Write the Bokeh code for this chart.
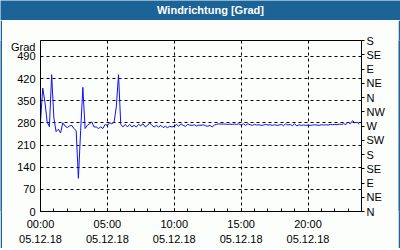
from datetime import datetime, timedelta
from bokeh.plotting import figure
from bokeh.layouts import column, row
from bokeh.models import (FixedTicker, DatetimeTickFormatter, LinearAxis, Range1d,
                          ColumnDataSource)
from bokeh.core.properties import value
from bokeh.embed import file_html
from bokeh.resources import INLINE

# ---- data (10-minute wind direction values, 05.12.18) ----
start = datetime(2018, 12, 5, 0, 0)
direction = [
    283, 390, 345, 282, 268, 432, 295, 252, 260, 248, 280, 270,
    265, 270, 272, 262, 255, 105, 255, 392, 262, 272, 277, 283,
    267, 267, 262, 267, 262, 275, 272, 280, 277, 282, 330, 432,
    275, 267, 275, 267, 275, 267, 272, 267, 275, 271, 277, 267,
    272, 280, 272, 267, 272, 267, 272, 265, 269, 265, 269, 267,
    269, 275, 269, 277, 272, 269, 275, 273, 272, 274, 270, 273,
    272, 274, 271, 269, 272, 267, 273, 275, 277, 276, 276, 276,
    275, 276, 275, 276, 275, 277, 273, 277, 272, 277, 274, 272,
    275, 273, 274, 272, 273, 275, 273, 274, 272, 274, 272, 273,
    275, 271, 277, 273, 275, 271, 277, 270, 274, 272, 273, 272,
    273, 272, 273, 274, 273, 272, 274, 273, 274, 273, 275, 274,
    275, 274, 276, 275, 277, 275, 282, 277, 287, 280, 282, 275,
]
times = [start + timedelta(minutes=10 * i) for i in range(len(direction))]

left_ticks = [0, 70, 140, 210, 280, 350, 420, 490]
unit_tick = 520
unit_text = "Grad"
compass_ticks = [0, 45, 90, 135, 180, 225, 270, 315, 360, 405, 450, 495, 540]
compass_labels = ["N", "NE", "E", "SE", "S", "SW", "W", "NW", "N", "NE", "E", "SE", "S"]
major_hours = [0, 5, 10, 15, 20]
title_text = "Windrichtung [Grad]"

BAR = "#1c6397"
BG = "#fcfefc"
FONT = "Liberation Sans"


def ms(h):
    return (start + timedelta(hours=h) - datetime(1970, 1, 1)).total_seconds() * 1000.0


def strip(w, h):
    s = figure(width=w, height=h, output_backend="svg", toolbar_location=None,
               x_axis_location=None, y_axis_location=None,
               min_border=0, min_border_left=0, min_border_right=0,
               min_border_top=0, min_border_bottom=0)
    s.background_fill_color = BAR
    s.border_fill_color = BAR
    s.outline_line_color = None
    s.grid.visible = False
    return s


# ---- title bar ----
tb = figure(width=400, height=20, output_backend="svg", toolbar_location=None,
            x_range=Range1d(0, 400), y_range=Range1d(0, 20),
            x_axis_location=None, y_axis_location=None,
            min_border=0, min_border_left=0, min_border_right=0,
            min_border_top=0, min_border_bottom=0)
tb.background_fill_color = BAR
tb.border_fill_color = BAR
tb.outline_line_color = None
tb.grid.visible = False
tb.text(x=[210], y=[10.5], text=[title_text], text_align="center", text_baseline="middle",
        text_color="white", text_font=value(FONT), text_font_style="bold",
        text_font_size="11px")

# ---- main chart ----
p = figure(width=396, height=228, output_backend="svg", toolbar_location=None,
           x_axis_type="datetime",
           x_range=Range1d(start, start + timedelta(hours=24)),
           y_range=Range1d(0, 540),
           min_border_left=38, min_border_right=37, min_border_top=20, min_border_bottom=36)
p.background_fill_color = BG
p.border_fill_color = BG
p.outline_line_color = "black"
p.outline_line_width = 1

src = ColumnDataSource(dict(t=times, d=direction))
p.line("t", "d", source=src, line_color="#1010f0", line_width=1)

# x axis
xa = p.xaxis[0]
xa.ticker = FixedTicker(ticks=[ms(h) for h in major_hours],
                        minor_ticks=[ms(h) for h in range(0, 25)])
fmt = "%H:%M\n%d.%m.%y"
xa.formatter = DatetimeTickFormatter(milliseconds=fmt, seconds=fmt, minsec=fmt, minutes=fmt,
                                     hourmin=fmt, hours=fmt, days=fmt, months=fmt, years=fmt)
xa.major_tick_in = 3
xa.major_tick_out = 0
xa.minor_tick_in = 3
xa.minor_tick_out = 0
xa.major_label_standoff = 6
xa.major_label_text_font = FONT
xa.major_label_text_font_size = "11px"
xa.major_label_text_color = "black"
xa.major_label_text_line_height = 1.3
xa.axis_line_color = "black"

# left axis (with the unit label on top)
ya = p.yaxis[0]
ya.ticker = FixedTicker(ticks=left_ticks + [unit_tick])
ya.major_label_overrides = {unit_tick: unit_text}
ya.major_tick_in = 0
ya.major_tick_out = 0
ya.minor_tick_in = 0
ya.minor_tick_out = 0
ya.major_label_standoff = 5
ya.major_label_text_font = FONT
ya.major_label_text_font_size = "11px"
ya.major_label_text_color = "black"

# right compass axis
ra = LinearAxis(ticker=FixedTicker(ticks=compass_ticks),
                major_label_overrides={t: l for t, l in zip(compass_ticks, compass_labels)})
ra.major_tick_in = 0
ra.major_tick_out = 3
ra.minor_tick_in = 0
ra.minor_tick_out = 0
ra.major_label_standoff = 2
ra.major_label_text_font = FONT
ra.major_label_text_font_size = "11px"
ra.major_label_text_color = "black"
p.add_layout(ra, "right")

p.xgrid[0].ticker = FixedTicker(ticks=[ms(h) for h in major_hours])
p.ygrid[0].ticker = FixedTicker(ticks=left_ticks)
for g in (p.xgrid[0], p.ygrid[0]):
    g.grid_line_color = "black"
    g.grid_line_dash = "3 3"
    g.grid_line_width = 1

layout = column(
    tb,
    row(strip(2, 228), p, strip(2, 228), spacing=0),
    strip(400, 2),
    spacing=0,
)

open("out.html", "w").write(file_html(layout, INLINE))
